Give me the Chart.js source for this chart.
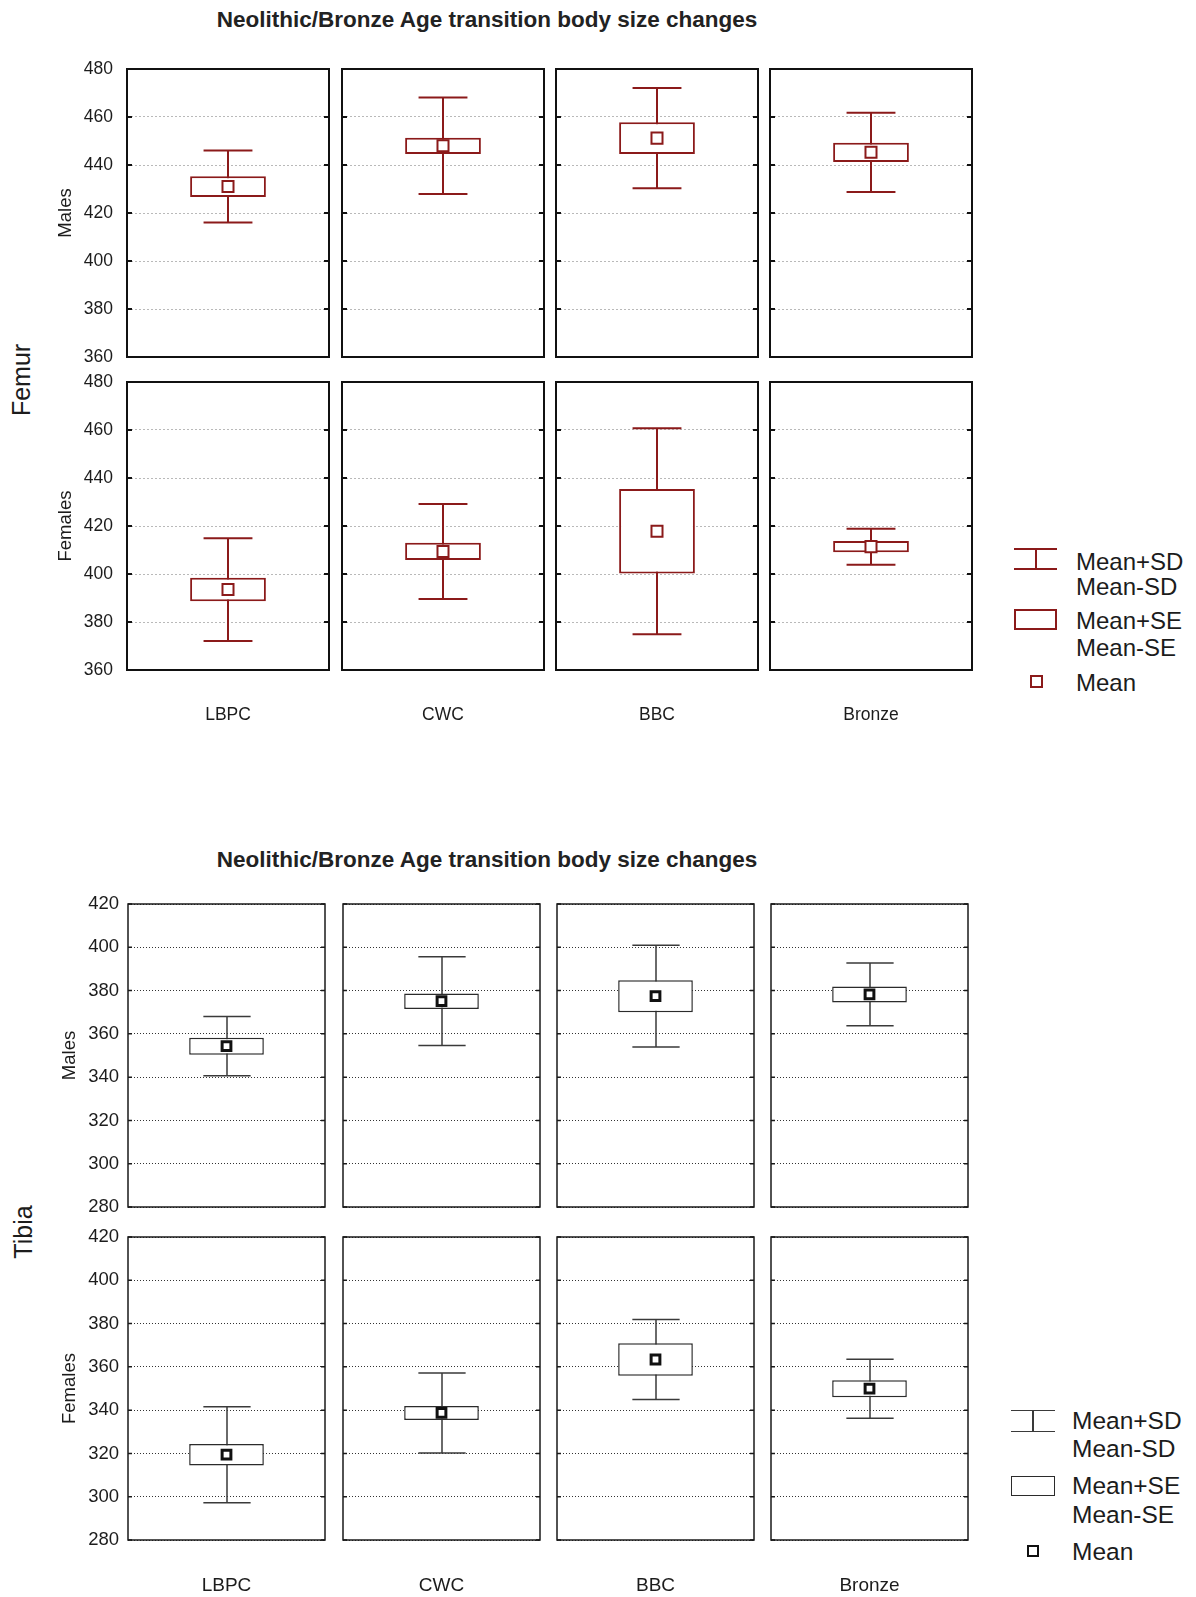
<!DOCTYPE html>
<html>
<head>
<meta charset="utf-8">
<title>Neolithic/Bronze Age transition body size changes</title>
<script src="https://cdn.jsdelivr.net/npm/chart.js@4/dist/chart.umd.min.js"></script>
<style>
  html, body { margin: 0; padding: 0; background: #fff; }
  #page { position: relative; width: 1196px; height: 1597px; overflow: hidden;
          font-family: "Liberation Sans", Arial, Helvetica, sans-serif; color: #1c1c1c; }
  #page canvas { position: absolute; }
  .txt { position: absolute; white-space: nowrap; }
  .title { font-weight: bold; transform: translate(-50%, -50%); }
  .side { transform: translate(-50%, -50%) rotate(-90deg); }
  .lg { position: absolute; box-sizing: border-box; }
</style>
</head>
<body>
<div id="page"></div>
<script>
// ---- data -------------------------------------------------------------
const groups = ['LBPC', 'CWC', 'BBC', 'Bronze'];

// femur length (mm): mean, standard error, standard deviation per group
const femurMalesMean   = [431.0, 448.0, 451.2, 445.3];
const femurMalesSE     = [4.3, 3.4, 6.6, 4.0];
const femurMalesSD     = [15.0, 20.1, 20.9, 16.5];
const femurFemalesMean = [393.5, 409.4, 417.8, 411.4];
const femurFemalesSE   = [4.9, 3.6, 17.6, 2.3];
const femurFemalesSD   = [21.4, 19.8, 42.9, 7.5];

// tibia length (mm)
const tibiaMalesMean   = [354.3, 375.1, 377.4, 378.2];
const tibiaMalesSE     = [3.9, 3.6, 7.4, 3.7];
const tibiaMalesSD     = [13.7, 20.5, 23.5, 14.5];
const tibiaFemalesMean = [319.4, 338.7, 363.4, 349.9];
const tibiaFemalesSE   = [5.0, 3.2, 7.5, 3.9];
const tibiaFemalesSD   = [22.2, 18.5, 18.5, 13.6];

const femurTicks = [360, 380, 400, 420, 440, 460, 480];
const tibiaTicks = [280, 300, 320, 340, 360, 380, 400, 420];

const titleText = 'Neolithic/Bronze Age transition body size changes';
const rowLabels = ['Males', 'Females'];
const legendLines = ['Mean+SD', 'Mean-SD', 'Mean+SE', 'Mean-SE', 'Mean'];

// ---- figure layout and styling ---------------------------------------
const figures = [
  {
    name: 'Femur', ticks: femurTicks,
    rows: [
      { label: rowLabels[0], mean: femurMalesMean, se: femurMalesSE, sd: femurMalesSD },
      { label: rowLabels[1], mean: femurFemalesMean, se: femurFemalesSE, sd: femurFemalesSD }
    ],
    lefts: [127, 342, 556, 770], width: 202, tops: [69, 382], height: 288,
    color: '#8b1a1a', boxW: 2, whiskerW: 2, whiskerColor: '#8b1a1a',
    markR: 7.8, markBW: 2, markColor: '#8b1a1a',
    gridColor: '#b9b9b9', gridDash: [2, 2], frameColor: '#111', frameW: 2, tickLen: 5,
    tickFont: 17.5, tickPad: 14, rowFont: 18.5, rowPad: 55, xFont: 17.5, xPad: 35, xh: 64,
    boxFrac: 0.375, capFrac: 0.242,
    titleAt: [487, 20], titleFont: 22.5,
    sideAt: [21, 380], sideFont: 25,
    legend: { left: 1014, w: 43, sd: [549, 569], se: [609, 630], mean: [1030, 675, 13],
              lineW: 2, markBW: 2, textLeft: 1076, font: 24, centers: [562, 587, 621, 648, 683] }
  },
  {
    name: 'Tibia', ticks: tibiaTicks,
    rows: [
      { label: rowLabels[0], mean: tibiaMalesMean, se: tibiaMalesSE, sd: tibiaMalesSD },
      { label: rowLabels[1], mean: tibiaFemalesMean, se: tibiaFemalesSE, sd: tibiaFemalesSD }
    ],
    lefts: [128, 343, 557, 771], width: 197, tops: [904, 1237], height: 303,
    color: '#2b2b2b', boxW: 1.5, whiskerW: 1.5, whiskerColor: '#3a3a3a',
    markR: 6.2, markBW: 3, markColor: '#111',
    gridColor: '#333', gridDash: [1, 2], frameColor: '#1a1a1a', frameW: 1.5, tickLen: 4,
    tickFont: 18.5, tickPad: 9, rowFont: 18.5, rowPad: 59, xFont: 19, xPad: 34, xh: 57,
    boxFrac: 0.379, capFrac: 0.24,
    titleAt: [487, 860], titleFont: 22.5,
    sideAt: [23, 1232], sideFont: 25,
    legend: { left: 1011, w: 44, sd: [1411, 1431], se: [1476, 1496], mean: [1027, 1545, 12],
              lineW: 1.5, markBW: 2.5, textLeft: 1072, font: 24.5, centers: [1421.7, 1449.6, 1486, 1515, 1552] }
  }
];

const page = document.getElementById('page');
const FONT = '"Liberation Sans", Arial, Helvetica, sans-serif';
const TEXT = '#1c1c1c';

function addText(str, x, y, size, cls, extraStyle) {
  const d = document.createElement('div');
  d.className = 'txt ' + (cls || '');
  d.textContent = str;
  d.style.left = x + 'px';
  d.style.top = y + 'px';
  d.style.fontSize = size + 'px';
  d.style.lineHeight = size + 'px';
  if (extraStyle) Object.assign(d.style, extraStyle);
  page.appendChild(d);
  return d;
}

// whiskers (mean ± SD) drawn through the chart scales, behind the SE box
function whiskerPlugin(fig, row, c) {
  return {
    id: 'sdWhiskers',
    beforeDatasetsDraw(chart) {
      const { ctx, chartArea: a, scales: { x, y } } = chart;
      const m = row.mean[c], sd = row.sd[c];
      const px = Math.round(x.getPixelForValue(0));
      const half = (a.right - a.left) * fig.capFrac / 2;
      const yTop = y.getPixelForValue(m + sd);
      const yBot = y.getPixelForValue(m - sd);
      ctx.save();
      ctx.strokeStyle = fig.whiskerColor;
      ctx.lineWidth = fig.whiskerW;
      ctx.beginPath();
      ctx.moveTo(px, yTop); ctx.lineTo(px, yBot);
      ctx.moveTo(px - half, yTop); ctx.lineTo(px + half, yTop);
      ctx.moveTo(px - half, yBot); ctx.lineTo(px + half, yBot);
      ctx.stroke();
      ctx.restore();
    }
  };
}

// panel frame with short inner tick marks at every grid value
function framePlugin(fig) {
  return {
    id: 'panelFrame',
    afterDatasetsDraw(chart) {
      const { ctx, chartArea: a, scales: { y } } = chart;
      ctx.save();
      ctx.strokeStyle = fig.frameColor;
      ctx.lineWidth = fig.frameW;
      ctx.beginPath();
      y.ticks.forEach(t => {
        const py = y.getPixelForValue(t.value);
        ctx.moveTo(a.left, py); ctx.lineTo(a.left + fig.tickLen, py);
        ctx.moveTo(a.right, py); ctx.lineTo(a.right - fig.tickLen, py);
      });
      ctx.stroke();
      ctx.strokeRect(a.left, a.top, a.right - a.left, a.bottom - a.top);
      ctx.restore();
    }
  };
}

function makePanel(fig, r, c) {
  const row = fig.rows[r];
  const first = c === 0;
  const last = r === fig.rows.length - 1;
  const L = fig.lefts[c], T = fig.tops[r], W = fig.width, H = fig.height;
  const edge = first ? 32 : 4;           // room for the tick labels overhanging the plot
  const padTop = edge;
  const padBottom = last ? 0 : edge;
  const padLeft = first ? 0 : 4;
  const padRight = 4;
  const yw = first ? L : 0;
  const xh = last ? fig.xh : 0;
  const cvLeft = first ? 0 : L - padLeft;
  const cvTop = T - padTop;
  const cvW = padLeft + yw + W + padRight;
  const cvH = padTop + H + xh + padBottom;

  const cv = document.createElement('canvas');
  cv.width = cvW; cv.height = cvH;
  cv.style.left = cvLeft + 'px'; cv.style.top = cvTop + 'px';
  cv.style.width = cvW + 'px'; cv.style.height = cvH + 'px';
  page.appendChild(cv);

  const mean = row.mean[c], se = row.se[c];
  const ticks = fig.ticks;

  new Chart(cv, {
    type: 'bar',
    data: {
      labels: [groups[c]],
      datasets: [
        {
          type: 'line', label: 'Mean', data: [mean], showLine: false,
          pointStyle: 'rect', pointRadius: fig.markR, pointBorderWidth: fig.markBW,
          pointBackgroundColor: '#fff', pointBorderColor: fig.markColor, order: 0
        },
        {
          type: 'bar', label: 'Mean±SE', data: [[mean - se, mean + se]],
          backgroundColor: '#fff', borderColor: fig.color, borderWidth: fig.boxW,
          borderSkipped: false, barPercentage: fig.boxFrac, categoryPercentage: 1, order: 1
        }
      ]
    },
    options: {
      responsive: false, animation: false, events: [],
      layout: { autoPadding: false, padding: { left: padLeft, right: padRight, top: padTop, bottom: padBottom } },
      plugins: { legend: { display: false }, tooltip: { enabled: false } },
      scales: {
        x: {
          display: last,
          grid: { display: false, drawTicks: false },
          border: { display: false },
          ticks: { font: { family: FONT, size: fig.xFont }, color: TEXT, padding: fig.xPad },
          afterFit: s => { s.height = xh; }
        },
        y: {
          min: ticks[0], max: ticks[ticks.length - 1],
          afterBuildTicks: s => { s.ticks = ticks.map(v => ({ value: v })); },
          grid: { color: fig.gridColor, lineWidth: 1, drawTicks: false },
          border: { display: false, dash: fig.gridDash },
          ticks: { display: first, font: { family: FONT, size: fig.tickFont }, color: TEXT, padding: fig.tickPad },
          title: {
            display: first, text: row.label, color: TEXT,
            font: { family: FONT, size: fig.rowFont }, padding: { top: fig.rowPad, bottom: 0 }
          },
          afterFit: s => { s.width = yw; }
        }
      }
    },
    plugins: [whiskerPlugin(fig, row, c), framePlugin(fig)]
  });
}

function makeLegend(fig) {
  const lg = fig.legend;
  // SD whisker icon
  const sd = document.createElement('div');
  sd.className = 'lg';
  Object.assign(sd.style, {
    left: lg.left + 'px', top: (lg.sd[0] - lg.lineW / 2) + 'px', width: lg.w + 'px',
    height: (lg.sd[1] - lg.sd[0] + lg.lineW) + 'px',
    borderTop: lg.lineW + 'px solid ' + fig.whiskerColor, borderBottom: lg.lineW + 'px solid ' + fig.whiskerColor
  });
  const stem = document.createElement('div');
  Object.assign(stem.style, {
    position: 'absolute', left: (lg.w / 2 - lg.lineW / 2) + 'px', top: 0, width: lg.lineW + 'px',
    height: '100%', background: fig.whiskerColor
  });
  sd.appendChild(stem);
  page.appendChild(sd);
  // SE box icon
  const se = document.createElement('div');
  se.className = 'lg';
  Object.assign(se.style, {
    left: lg.left + 'px', top: lg.se[0] + 'px', width: lg.w + 'px',
    height: (lg.se[1] - lg.se[0]) + 'px', border: lg.lineW + 'px solid ' + fig.color
  });
  page.appendChild(se);
  // mean marker icon
  const mk = document.createElement('div');
  mk.className = 'lg';
  Object.assign(mk.style, {
    left: lg.mean[0] + 'px', top: lg.mean[1] + 'px', width: lg.mean[2] + 'px', height: lg.mean[2] + 'px',
    border: lg.markBW + 'px solid ' + fig.markColor
  });
  page.appendChild(mk);
  legendLines.forEach((t, i) => {
    addText(t, lg.textLeft, lg.centers[i] - lg.font / 2, lg.font);
  });
}

figures.forEach(fig => {
  addText(titleText, fig.titleAt[0], fig.titleAt[1], fig.titleFont, 'title', { color: '#222' });
  addText(fig.name, fig.sideAt[0], fig.sideAt[1], fig.sideFont, 'side');
  fig.rows.forEach((row, r) => {
    groups.forEach((g, c) => makePanel(fig, r, c));
  });
  makeLegend(fig);
});
</script>
</body>
</html>
